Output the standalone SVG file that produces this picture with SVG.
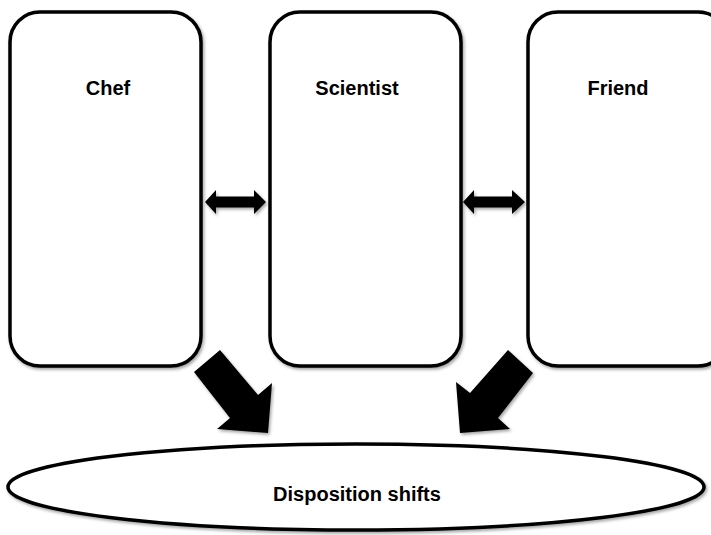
<svg xmlns="http://www.w3.org/2000/svg" width="711" height="535" viewBox="0 0 711 535">
<style>
.box{fill:#fff;stroke:#000;stroke-width:3.5}
.lbl{font-family:"Liberation Sans",Arial,sans-serif;font-weight:bold;font-size:20px;text-anchor:middle;fill:#000}
.arr{fill:#000;stroke:none}
</style>
<defs>
<filter id="sh" x="-10%" y="-10%" width="130%" height="130%">
<feDropShadow dx="1.5" dy="2" stdDeviation="1.5" flood-color="#000" flood-opacity="0.35"/>
</filter>
</defs>
<rect width="711" height="535" fill="#fff"/>
<g id="chef">
<rect class="box" x="10" y="12" width="191" height="354" rx="30" filter="url(#sh)"/>
<text class="lbl" x="108" y="95">Chef</text>
</g>
<g id="scientist">
<rect class="box" x="270" y="12" width="191" height="354" rx="30" filter="url(#sh)"/>
<text class="lbl" x="357" y="95">Scientist</text>
</g>
<g id="friend">
<rect class="box" x="528" y="12" width="200" height="354" rx="30" filter="url(#sh)"/>
<text class="lbl" x="618" y="95">Friend</text>
</g>
<g id="disposition">
<ellipse class="box" cx="356" cy="487" rx="348" ry="43" filter="url(#sh)"/>
<text class="lbl" x="357" y="501">Disposition shifts</text>
</g>
<g id="connectors" filter="url(#sh)">
<polygon class="arr" points="205,202 216,190 216,196.5 254,196.5 254,190 266,202 254,214 254,207.5 216,207.5 216,214"/>
<polygon class="arr" points="463,202 474,190 474,196.5 512,196.5 512,190 525,202 512,214 512,207.5 474,207.5 474,214"/>
<polygon class="arr" points="194,372 220,350 258,395 272,383 268,433 217,429 230,418"/>
<polygon class="arr" points="508,350 533,373 498,418 510,429 460,433 456,382 470,393"/>
</g>
</svg>
